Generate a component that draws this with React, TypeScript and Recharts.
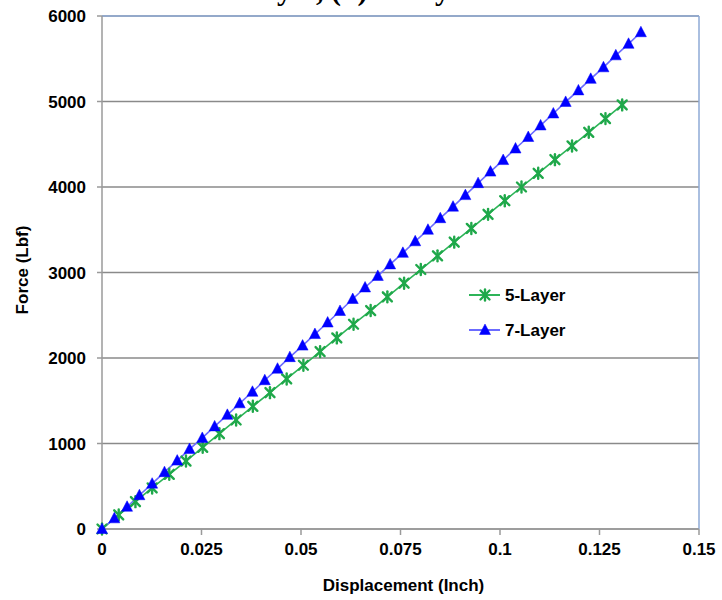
import {
  CartesianGrid,
  Legend,
  Line,
  LineChart,
  ReferenceLine,
  XAxis,
  YAxis,
} from "recharts";

const xTicks = [0, 0.025, 0.05, 0.075, 0.1, 0.125, 0.15];
const yTicks = [0, 1000, 2000, 3000, 4000, 5000, 6000];

// 5-layer specimen: displacement (inch) / force (lbf)
const disp5 = [
  0, 0.0042, 0.0084, 0.0126, 0.0169, 0.0211, 0.0253, 0.0295, 0.0337, 0.0379,
  0.0422, 0.0464, 0.0506, 0.0548, 0.059, 0.0632, 0.0675, 0.0717, 0.0759,
  0.0801, 0.0843, 0.0885, 0.0928, 0.097, 0.1012, 0.1054, 0.1096, 0.1138,
  0.1181, 0.1223, 0.1265, 0.1307,
];
const force5 = [
  0, 165, 320, 480, 640, 795, 955, 1115, 1275, 1435, 1595, 1755, 1915, 2075,
  2235, 2395, 2555, 2715, 2875, 3035, 3195, 3355, 3515, 3680, 3840, 4000, 4160,
  4320, 4480, 4640, 4800, 4960,
];

// 7-layer specimen
const disp7 = [
  0, 0.0031, 0.0063, 0.0094, 0.0126, 0.0157, 0.0189, 0.022, 0.0252, 0.0283,
  0.0315, 0.0346, 0.0378, 0.0409, 0.0441, 0.0472, 0.0504, 0.0535, 0.0567,
  0.0598, 0.063, 0.0661, 0.0693, 0.0724, 0.0756, 0.0787, 0.0819, 0.085, 0.0882,
  0.0913, 0.0945, 0.0976, 0.1008, 0.1039, 0.1071, 0.1102, 0.1134, 0.1165,
  0.1197, 0.1228, 0.126, 0.1291, 0.1323, 0.1354,
];
const force7 = [
  0, 125, 260, 395, 530, 665, 800, 935, 1065, 1200, 1335, 1470, 1605, 1740,
  1875, 2010, 2145, 2280, 2415, 2550, 2690, 2825, 2960, 3095, 3230, 3365, 3500,
  3635, 3770, 3905, 4045, 4180, 4315, 4450, 4585, 4720, 4860, 4995, 5130, 5265,
  5400, 5540, 5675, 5810,
];

const layer5 = disp5.map((d, i) => ({ disp: d, force: force5[i] }));
const layer7 = disp7.map((d, i) => ({ disp: d, force: force7[i] }));

const GREEN = "#1fa84a";
const GREEN_LINE = "#2db458";
const BLUE = "#0000ff";
const BLUE_LINE = "#6b6bff";
const FONT = "'Liberation Sans', Arial, sans-serif";

function StarMark({ cx, cy }: { cx: number; cy: number }) {
  return (
    <g stroke={GREEN} strokeWidth={2.4} strokeLinecap="round">
      <line x1={cx - 4.5} y1={cy - 4.5} x2={cx + 4.5} y2={cy + 4.5} />
      <line x1={cx - 4.5} y1={cy + 4.5} x2={cx + 4.5} y2={cy - 4.5} />
      <line x1={cx} y1={cy - 5.5} x2={cx} y2={cy + 5.5} />
    </g>
  );
}

function TriMark({ cx, cy }: { cx: number; cy: number }) {
  return (
    <polygon
      points={`${cx},${cy - 6} ${cx - 5.5},${cy + 4.5} ${cx + 5.5},${cy + 4.5}`}
      fill={BLUE}
      stroke={BLUE}
      strokeWidth={0.5}
    />
  );
}

function LegendBox() {
  const rows = [
    { label: "5-Layer", color: GREEN_LINE, mark: "star" },
    { label: "7-Layer", color: BLUE_LINE, mark: "tri" },
  ];
  return (
    <svg width={130} height={60}>
      {rows.map((r, i) => {
        const y = 11 + i * 35;
        return (
          <g key={r.label}>
            <line x1={6} x2={37} y1={y} y2={y} stroke={r.color} strokeWidth={2} />
            {r.mark === "star" ? <StarMark cx={22} cy={y} /> : <TriMark cx={22} cy={y} />}
            <text
              x={42}
              y={y + 6}
              fontFamily={FONT}
              fontWeight={700}
              fontSize={17}
              fill="#000"
            >
              {r.label}
            </text>
          </g>
        );
      })}
    </svg>
  );
}

const tickStyle = { fill: "#000", fontSize: 17, fontWeight: 700, fontFamily: FONT };

export default function App() {
  return (
    <div style={{ position: "absolute", left: 0, top: 0, width: 722, height: 600, background: "#fff" }}>
      <svg width={722} height={10} style={{ position: "absolute", left: 0, top: 0 }}>
        <text x={217} y={0} fontFamily="'Liberation Serif', serif" fontWeight={700} fontSize={30} fill="#000">
          5-Layer, (b) 7-Layer
        </text>
      </svg>
      <LineChart
        width={722}
        height={600}
        margin={{ top: 16, right: 23, bottom: 41, left: 42 }}
        style={{ position: "absolute", left: 0, top: 0 }}
      >
        <CartesianGrid vertical={false} stroke="#8a8a8a" strokeWidth={1.3} />
        <XAxis
          type="number"
          dataKey="disp"
          domain={[0, 0.15]}
          ticks={xTicks}
          interval={0}
          height={30}
          stroke="#9a9a9a"
          strokeWidth={1.5}
          tickSize={6}
          tickMargin={8}
          tick={tickStyle}
          label={{
            content: (p: any) => (
              <text
                x={p.viewBox.x + p.viewBox.width / 2 + 3}
                y={591}
                textAnchor="middle"
                fontFamily={FONT}
                fontWeight={700}
                fontSize={17}
                fill="#000"
              >
                Displacement  (Inch)
              </text>
            ),
          }}
        />
        <YAxis
          type="number"
          domain={[0, 6000]}
          ticks={yTicks}
          interval={0}
          width={60}
          stroke="#9a9a9a"
          strokeWidth={1.5}
          tickSize={5}
          tickMargin={11}
          tick={tickStyle}
          label={{
            content: (p: any) => {
              const cx = p.viewBox.x - 20;
              const cy = 270;
              return (
                <text
                  x={cx}
                  y={cy}
                  transform={`rotate(-90, ${cx}, ${cy})`}
                  textAnchor="middle"
                  dominantBaseline="central"
                  fontFamily={FONT}
                  fontWeight={700}
                  fontSize={17}
                  fill="#000"
                >
                  Force (Lbf)
                </text>
              );
            },
          }}
        />
        <ReferenceLine y={6000} stroke="#8eaad6" strokeWidth={1.5} />
        <ReferenceLine x={0.15} stroke="#8eaad6" strokeWidth={1.5} />
        <Line
          data={layer5}
          dataKey="force"
          name="5-Layer"
          stroke={GREEN_LINE}
          strokeWidth={1.6}
          isAnimationActive={false}
          dot={(p: any) => <StarMark key={`s${p.index}`} cx={p.cx} cy={p.cy} />}
          activeDot={false}
        />
        <Line
          data={layer7}
          dataKey="force"
          name="7-Layer"
          stroke={BLUE_LINE}
          strokeWidth={1.6}
          isAnimationActive={false}
          dot={(p: any) => <TriMark key={`t${p.index}`} cx={p.cx} cy={p.cy} />}
          activeDot={false}
        />
        <Legend
          layout="vertical"
          align="center"
          verticalAlign="middle"
          content={() => <LegendBox />}
          wrapperStyle={{ left: 463, top: 284, width: 130 }}
        />
      </LineChart>
    </div>
  );
}
